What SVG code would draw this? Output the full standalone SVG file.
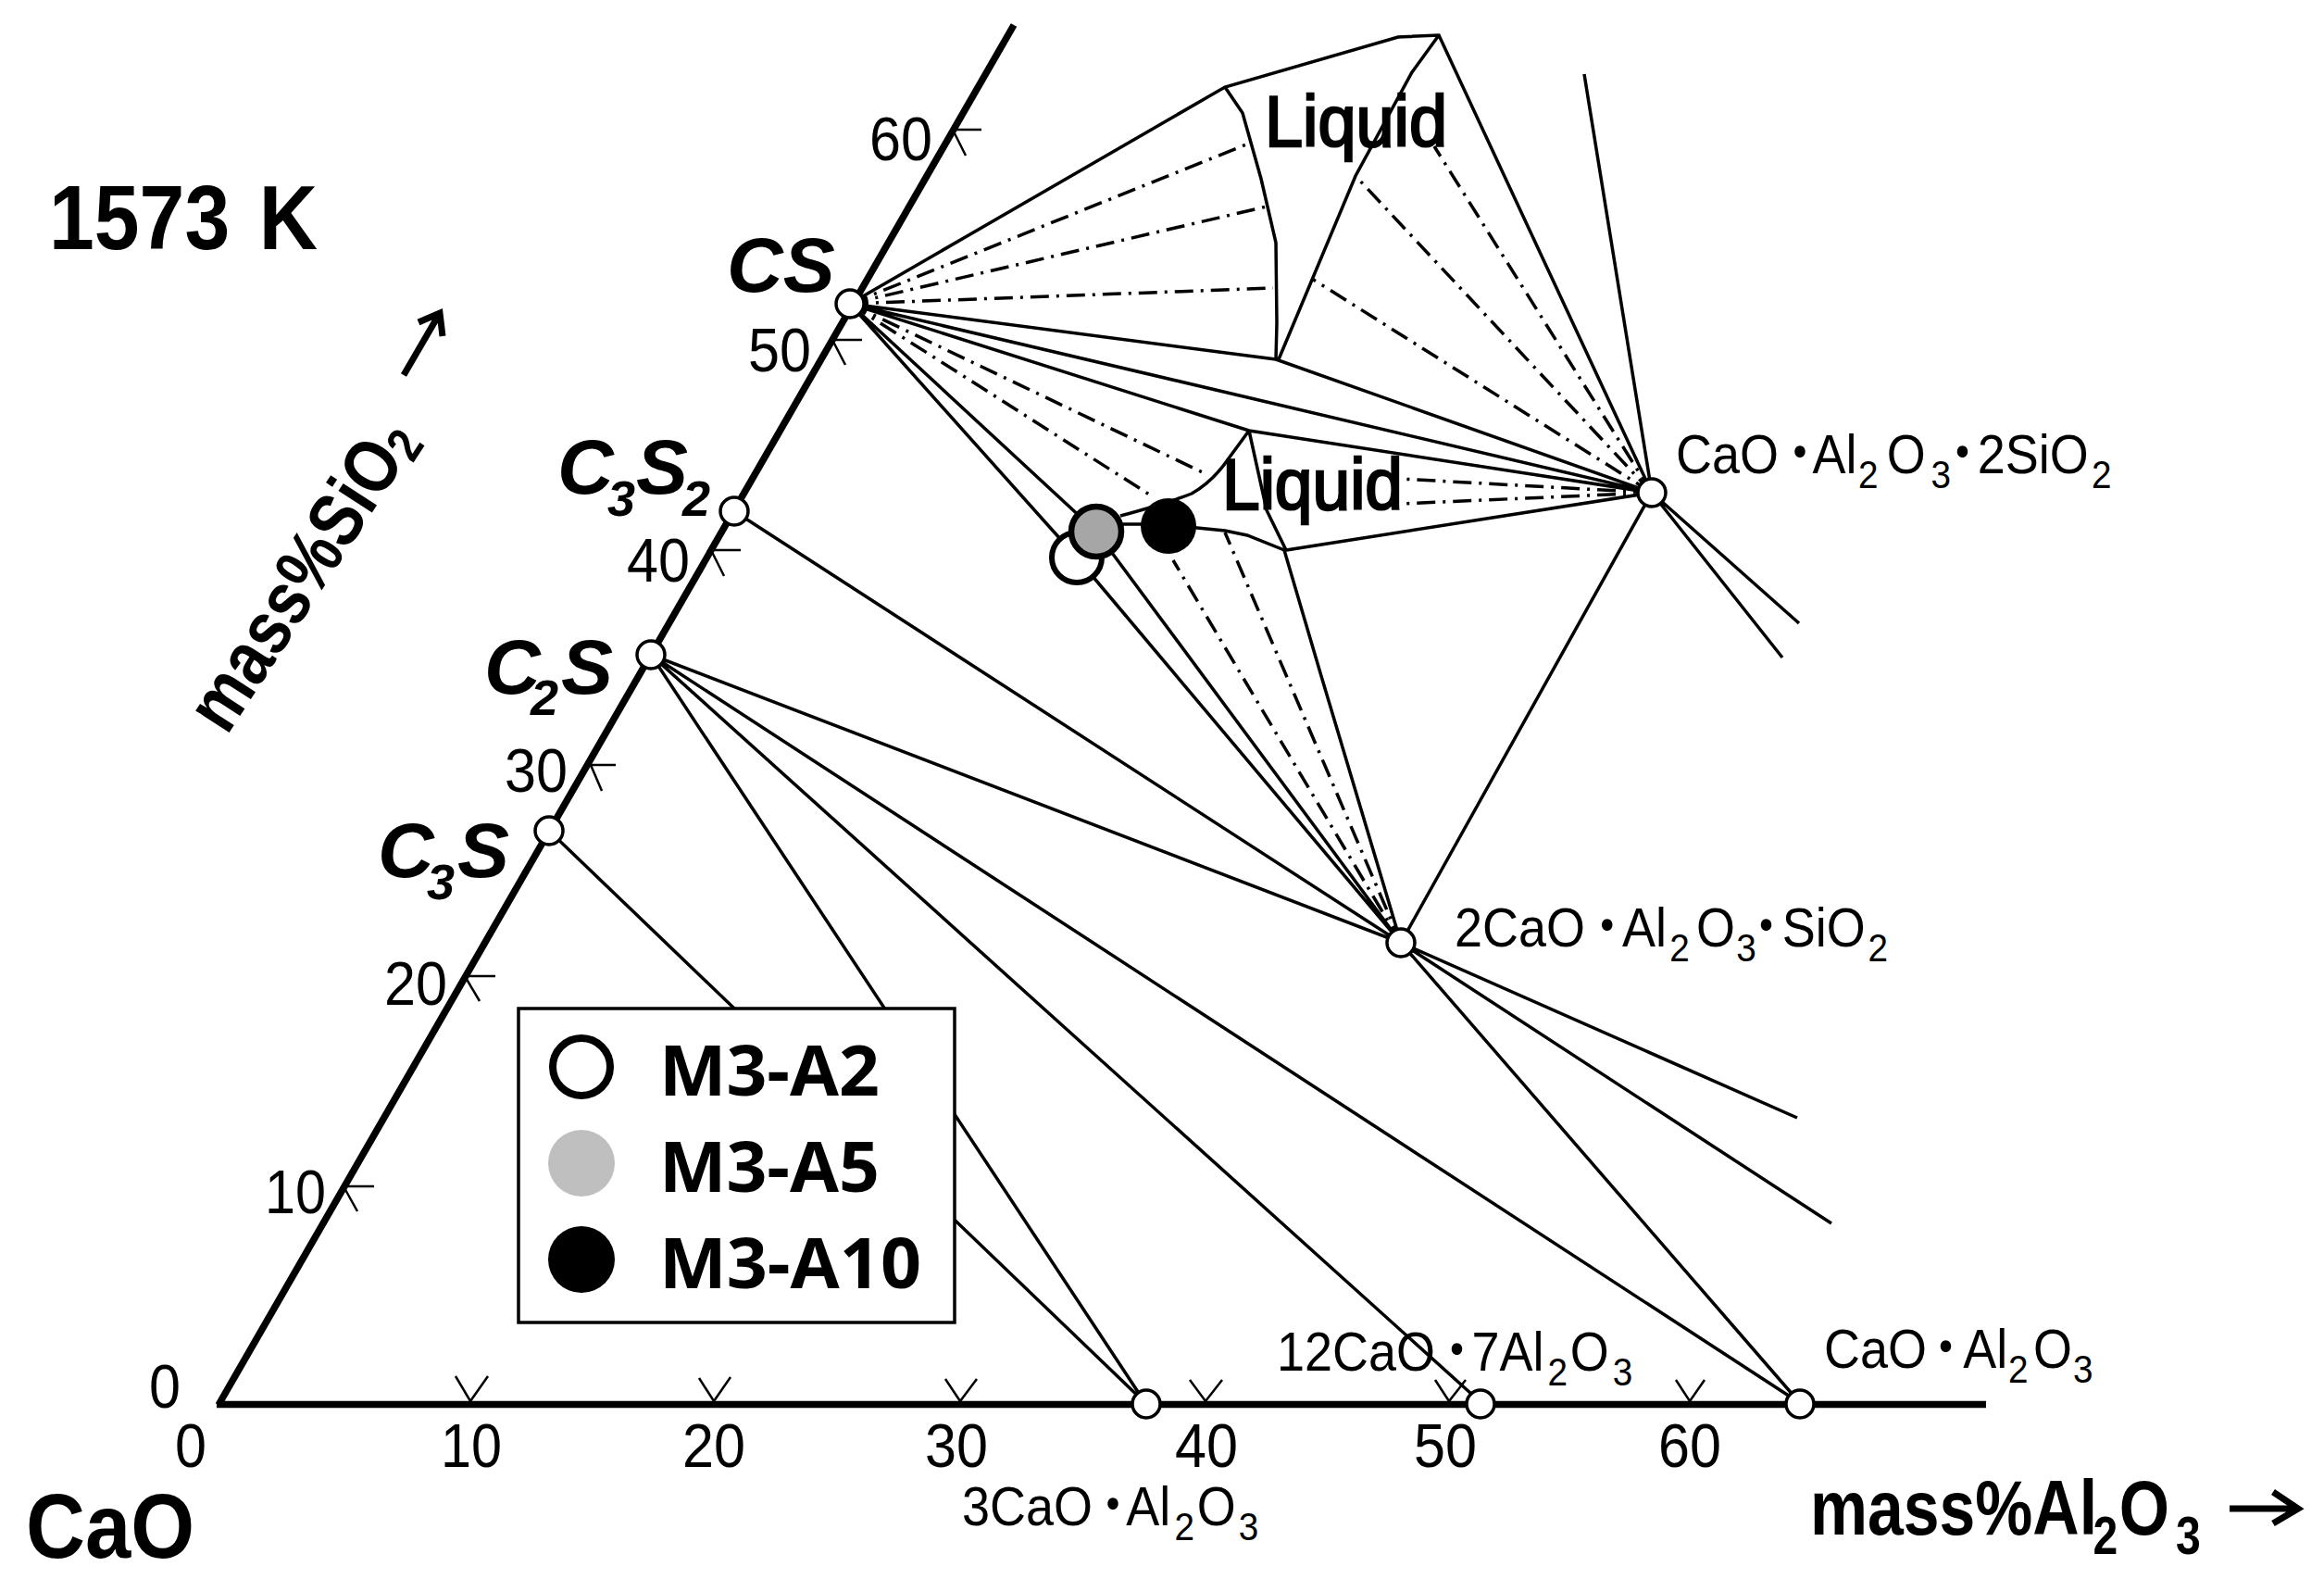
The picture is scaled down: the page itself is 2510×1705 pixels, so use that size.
<svg xmlns="http://www.w3.org/2000/svg" width="2510" height="1705" viewBox="0 0 2510 1705">
<style>
text{font-family:"Liberation Sans","Noto Sans CJK JP",sans-serif;fill:#000}
.l{fill:none;stroke:#000;stroke-width:3.5}
.d{fill:none;stroke:#000;stroke-width:3.5;stroke-dasharray:20 8 3 8}
.a{fill:none;stroke:#000;stroke-width:7.5}
.t{fill:none;stroke:#000;stroke-width:2.5}
.ar{fill:none;stroke:#000;stroke-width:7}
.n{fill:#fff;stroke:#000;stroke-width:3.5}
.num{font-size:67px}
.cmp{font-size:60px}
.cmp .s{font-size:43px}
.ph{font-size:84px;font-weight:bold;font-style:italic}
.ph .s{font-size:54px}
.liq{font-size:77px;stroke:#000;stroke-width:2.5}
.leg{font-family:"Open Sans","Liberation Sans",sans-serif;font-size:76px;font-weight:bold}
</style>
<rect width="2510" height="1705" fill="#fff"/>
<g id="connectors">
<path class="a" d="M236 1517L1095 27M234 1516.5H2145"/>
<path class="t" d="M1029 140H1060M1029 140L1043 168M899 367H931M899 367L913 394M768 594H800M768 594L782 622M638 826H665M638 826L650 854M502 1054H535M502 1054L518 1081M371 1281H404M371 1281L386 1308"/>
<path class="t" d="M492 1486L508 1513L527 1486M755 1488L771 1513L789 1487M1021 1489L1037 1513L1055 1489M1285 1490L1302 1513L1320 1490M1550 1490L1565 1513L1583 1490M1810 1490L1825 1513L1841 1490"/>
<path class="l" d="M918 328L1323 94L1510 40L1554 38L1784 532M1323 94L1342 122L1362 193L1378 262L1379 349L1378 388M1554 38L1525 78L1464 190L1381 388M1711 80L1784 532M918 328L1378 388L1784 532M918 328L1784 532M918 328L1349 465L1784 532M1349 465L1368 551L1389 594L1784 532M1349 465L1327 495Q1310 520 1287 533Q1265 542 1210 557M1184 566H1262M1262 568L1293 570L1323 573L1347 578L1387 594L1427 730L1513 1018M918 328L1184 574M918 328L1163 602M1184 574L1513 1018M1163 602L1513 1018M1784 532L1513 1018M1784 532L1943 673M1784 532L1925 710"/>
<path class="d" d="M918 328L1346 156M918 328L1368 223M918 328L1375 311M918 328L1305 513M918 328L1243 535M1784 532L1549 158M1784 532L1464 190M1784 532L1417 301M1784 532L1512 517M1784 532L1512 544M1513 1018L1267 605M1513 1018L1323 575"/>
<path class="l" d="M793 552L1513 1018M703 707L1513 1018M703 707L1944 1515M703 707L1599 1514M703 707L1237 1515M593 897L1237 1515M1513 1018L1941 1207M1513 1018L1978 1321M1513 1018L1944 1515"/>
<path class="ar" d="M436 405L475 338M452 348L475 338L478 363M2408 1629H2480M2455 1611L2482 1629L2455 1645"/>
</g>
<g id="node-CS"><circle class="n" cx="918" cy="328" r="15"/><text class="ph" x="785" y="315">CS</text></g>
<g id="node-C3S2"><circle class="n" cx="793" cy="552" r="15"/><text class="ph" x="602" y="533">C<tspan class="s" x="656" dy="24">3</tspan><tspan x="687" dy="-24">S</tspan><tspan class="s" x="737" dy="24">2</tspan></text></g>
<g id="node-C2S"><circle class="n" cx="703" cy="707" r="15"/><text class="ph" x="523" y="749">C<tspan class="s" x="573" dy="23">2</tspan><tspan x="606" dy="-23">S</tspan></text></g>
<g id="node-C3S"><circle class="n" cx="593" cy="897" r="15"/><text class="ph" x="408" y="947">C<tspan class="s" x="461" dy="24">3</tspan><tspan x="494" dy="-24">S</tspan></text></g>
<g id="node-CAS2"><circle class="n" cx="1784" cy="532" r="15"/><text class="cmp" transform="translate(1810 511) scale(.9 1)">CaO<tspan x="119">・</tspan><tspan x="164">Al</tspan><tspan class="s" x="219" dy="16">2</tspan><tspan x="253" dy="-16">O</tspan><tspan class="s" x="306" dy="16">3</tspan><tspan x="314" dy="-16">・</tspan><tspan x="362">2SiO</tspan><tspan class="s" x="499" dy="16">2</tspan></text></g>
<g id="node-C2AS"><circle class="n" cx="1513" cy="1018" r="15"/><text class="cmp" transform="translate(1571 1022) scale(.9 1)">2CaO<tspan x="153">・</tspan><tspan x="201">Al</tspan><tspan class="s" x="258" dy="16">2</tspan><tspan x="290" dy="-16">O</tspan><tspan class="s" x="338" dy="16">3</tspan><tspan x="344" dy="-16">・</tspan><tspan x="393">SiO</tspan><tspan class="s" x="496" dy="16">2</tspan></text></g>
<g id="node-C3A"><circle class="n" cx="1238" cy="1516" r="15"/><text class="cmp" transform="translate(1039 1647) scale(.9 1)">3CaO<tspan x="151">・</tspan><tspan x="197">Al</tspan><tspan class="s" x="255" dy="16">2</tspan><tspan x="282" dy="-16">O</tspan><tspan class="s" x="332" dy="16">3</tspan></text></g>
<g id="node-C12A7"><circle class="n" cx="1599" cy="1516" r="15"/><text class="cmp" transform="translate(1379 1480) scale(.9 1)">12CaO<tspan x="186">・</tspan><tspan x="234">7Al</tspan><tspan class="s" x="325" dy="16">2</tspan><tspan x="352" dy="-16">O</tspan><tspan class="s" x="403" dy="16">3</tspan></text></g>
<g id="node-CA"><circle class="n" cx="1944" cy="1516" r="15"/><text class="cmp" transform="translate(1970 1477) scale(.9 1)">CaO<tspan x="116">・</tspan><tspan x="167">Al</tspan><tspan class="s" x="221" dy="16">2</tspan><tspan x="251" dy="-16">O</tspan><tspan class="s" x="299" dy="16">3</tspan></text></g>
<g id="sample-M3-A2"><circle cx="1163" cy="602" r="27" fill="#fff" stroke="#000" stroke-width="6"/></g>
<g id="sample-M3-A5"><circle cx="1184" cy="574" r="27" fill="#a6a6a6" stroke="#000" stroke-width="6.5"/></g>
<g id="sample-M3-A10"><circle cx="1262" cy="568" r="30"/></g>
<g id="legend">
<rect x="560" y="1089" width="471" height="339" fill="#fff" stroke="#000" stroke-width="3.5"/>
<circle cx="628" cy="1152" r="31" fill="#fff" stroke="#000" stroke-width="8"/>
<circle cx="628" cy="1256" r="36" fill="#bfbfbf"/>
<circle cx="628" cy="1360" r="36"/>
<text class="leg" x="712" y="1183" textLength="238" lengthAdjust="spacingAndGlyphs">M3-A2</text>
<text class="leg" x="712" y="1287" textLength="238" lengthAdjust="spacingAndGlyphs">M3-A5</text>
<text class="leg" x="712" y="1391" textLength="283" lengthAdjust="spacingAndGlyphs">M3-A10</text>
</g>
<g id="labels">
<text x="53" y="269" font-size="99" font-weight="bold" word-spacing="8" textLength="290" lengthAdjust="spacingAndGlyphs">1573 K</text>
<text x="28" y="1682" font-size="98" font-weight="bold" textLength="182" lengthAdjust="spacingAndGlyphs">CaO</text>
<text class="liq" x="1366" y="158" textLength="197" lengthAdjust="spacingAndGlyphs">Liquid</text>
<text class="liq" x="1320" y="550" textLength="195" lengthAdjust="spacingAndGlyphs">Liquid</text>
<text transform="translate(245 795) rotate(-57) scale(.84 1)" font-size="82" font-weight="bold">mass%SiO<tspan font-size="54" dy="8">2</tspan></text>
<text transform="translate(1955 1657) scale(.83 1)" font-size="84" font-weight="bold">mass%Al<tspan font-size="58" x="368" dy="21">2</tspan><tspan x="402" dy="-21">O</tspan><tspan font-size="58" x="476" dy="21">3</tspan></text>
<g class="num" text-anchor="end">
<text x="1007" y="173" textLength="68" lengthAdjust="spacingAndGlyphs">60</text><text x="876" y="401" textLength="68" lengthAdjust="spacingAndGlyphs">50</text><text x="745" y="628" textLength="68" lengthAdjust="spacingAndGlyphs">40</text><text x="613" y="855" textLength="68" lengthAdjust="spacingAndGlyphs">30</text><text x="483" y="1085" textLength="68" lengthAdjust="spacingAndGlyphs">20</text><text x="352" y="1310" textLength="66" lengthAdjust="spacingAndGlyphs">10</text><text x="195" y="1520" textLength="34" lengthAdjust="spacingAndGlyphs">0</text>
</g>
<g class="num" text-anchor="middle">
<text x="206" y="1584" textLength="34" lengthAdjust="spacingAndGlyphs">0</text><text x="509" y="1584" textLength="66" lengthAdjust="spacingAndGlyphs">10</text><text x="771" y="1584" textLength="68" lengthAdjust="spacingAndGlyphs">20</text><text x="1033" y="1584" textLength="68" lengthAdjust="spacingAndGlyphs">30</text><text x="1303" y="1584" textLength="68" lengthAdjust="spacingAndGlyphs">40</text><text x="1561" y="1584" textLength="68" lengthAdjust="spacingAndGlyphs">50</text><text x="1825" y="1584" textLength="68" lengthAdjust="spacingAndGlyphs">60</text>
</g>
</g>
</svg>
